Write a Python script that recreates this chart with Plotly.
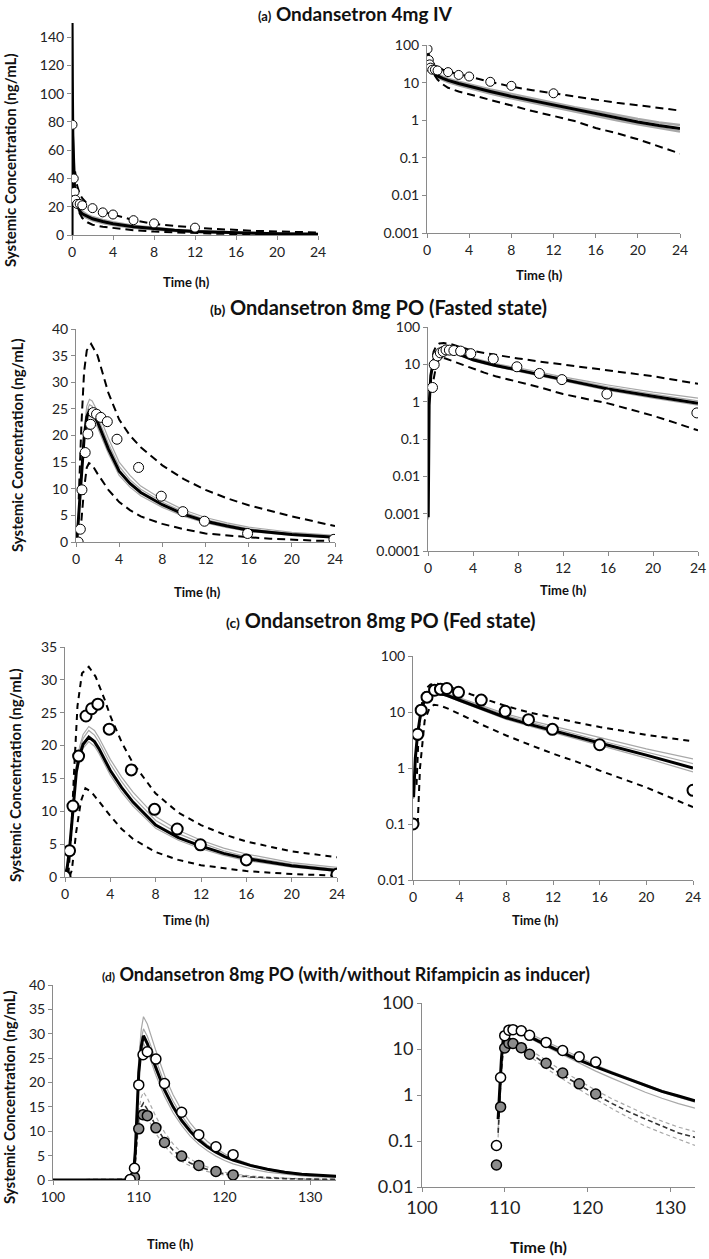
import plotly.graph_objects as go

# ---------------- (a) Ondansetron 4mg IV ----------------
a_obs_t = [0.05, 0.17, 0.25, 0.33, 0.5, 0.75, 1, 2, 3, 4, 6, 8, 12]
a_obs_c = [78, 40, 30.5, 25, 22, 22, 21, 19, 16, 14.5, 10.5, 8.2, 5.2]
a_mean_t = [0, 0.001, 0.03, 0.08, 0.15, 0.25, 0.4, 0.6, 0.8, 1, 1.5, 2, 3, 4, 6, 8, 10, 12, 14, 16, 18, 20, 22, 24]
a_mean_c = [0, 150, 110, 70, 45, 32, 24, 19.5, 16.5, 15, 13, 11.5, 9.5, 8, 5.8, 4.3, 3.3, 2.5, 1.9, 1.5, 1.15, 0.9, 0.72, 0.6]
a_g1_c = [0, 150, 110, 72, 47, 34, 26, 21, 18, 16.5, 14.3, 12.7, 10.6, 9, 6.6, 5, 3.8, 2.9, 2.2, 1.75, 1.35, 1.07, 0.87, 0.74]
a_g2_c = [0, 150, 108, 68, 43, 30, 22.5, 18, 15.2, 13.7, 11.8, 10.4, 8.5, 7.1, 5.1, 3.8, 2.9, 2.2, 1.65, 1.3, 1.0, 0.78, 0.62, 0.5]
a_up_t = [0.3, 0.5, 0.75, 1, 1.5, 2, 3, 4, 6, 8, 10, 12, 14, 16, 18, 20, 22, 24]
a_up_c = [45, 35, 29, 26, 22, 19.5, 16.5, 14.5, 10.5, 7.8, 6.3, 5.2, 4.3, 3.5, 2.9, 2.5, 2.1, 1.8]
a_lo_t = [0.7, 1, 1.5, 2, 3, 4, 6, 8, 10, 12, 14, 16, 18, 20, 22, 24]
a_lo_c = [16, 12, 9, 7.3, 5.8, 4.9, 3.4, 2.4, 1.75, 1.3, 0.95, 0.62, 0.45, 0.31, 0.2, 0.13]

# ---------------- (b) 8mg PO fasted ----------------
b_obs_t = [0.2, 0.4, 0.55, 0.85, 1.1, 1.35, 1.6, 1.9, 2.3, 2.9, 3.8, 5.8, 7.9, 9.9, 11.9, 15.9, 23.9]
b_obs_c = [0, 2.4, 9.8, 16.8, 20.3, 22.1, 24.3, 24.0, 23.4, 22.6, 19.3, 14.0, 8.6, 5.7, 3.9, 1.6, 0.5]
b_mean_t = [0.02, 0.1, 0.25, 0.5, 0.75, 1.0, 1.25, 1.5, 2, 2.5, 3, 4, 5, 6, 8, 10, 12, 14, 16, 20, 24]
b_mean_c = [0.0008, 0.8, 5, 13, 19.5, 23.5, 24.7, 24.5, 22.5, 20, 17.5, 13.3, 11, 9.3, 7, 5.2, 3.9, 3.0, 2.2, 1.4, 0.9]
b_g1_c = [0.001, 1, 6, 14.5, 21, 25.5, 26.8, 26.5, 24.5, 22, 19.5, 15, 12.5, 10.5, 8, 6, 4.6, 3.6, 2.8, 1.8, 1.25]
b_g2_c = [0.0009, 0.9, 5.5, 13.8, 20.3, 24.5, 25.8, 25.5, 23.5, 21, 18.5, 14.2, 11.7, 9.9, 7.5, 5.6, 4.2, 3.3, 2.5, 1.6, 1.05]
b_g3_c = [0.0007, 0.7, 4.5, 12.3, 18.7, 22.5, 23.7, 23.5, 21.5, 19, 16.6, 12.5, 10.3, 8.7, 6.5, 4.8, 3.6, 2.7, 2.0, 1.25, 0.8]
b_up_t = [0.25, 0.5, 0.75, 1, 1.4, 2, 2.5, 3, 4, 5, 6, 8, 10, 12, 14, 16, 20, 24]
b_up_c = [8, 22, 32, 36, 37.2, 35, 31.5, 28, 23, 20, 17.8, 14.4, 11.8, 9.8, 8.2, 6.9, 4.8, 3.0]
b_lo_t = [0.5, 0.75, 1, 1.2, 1.5, 2, 3, 4, 5, 6, 8, 10, 12, 14, 16, 18, 20, 22, 24]
b_lo_c = [4, 10, 14, 14.8, 14.5, 12.8, 9.8, 7.5, 6, 4.8, 3.4, 2.4, 1.6, 1.2, 0.9, 0.62, 0.42, 0.27, 0.17]

# ---------------- (c) 8mg PO fed ----------------
c_obs_t = [0, 0.4, 0.7, 1.2, 1.85, 2.35, 2.9, 3.9, 5.85, 7.9, 9.9, 11.95, 16, 24]
c_obs_c = [0.1, 4.0, 10.8, 18.4, 24.5, 25.6, 26.3, 22.5, 16.3, 10.3, 7.3, 4.9, 2.6, 0.4]
c_mean_t = [0.05, 0.2, 0.4, 0.7, 1.0, 1.3, 1.6, 2.1, 2.6, 3, 4, 5, 6, 8, 10, 12, 14, 16, 20, 24]
c_mean_c = [0.3, 1.5, 4.2, 10.8, 16, 18.6, 20.2, 21.3, 20.6, 19.5, 16.2, 13.6, 11.4, 7.9, 6.0, 4.7, 3.6, 2.8, 1.7, 1.0]
c_g1_c = [0.35, 1.7, 4.6, 11.5, 17, 19.9, 21.7, 22.9, 22.3, 21.2, 17.9, 15.2, 12.9, 9.2, 7.1, 5.6, 4.4, 3.5, 2.2, 1.45]
c_g2_c = [0.33, 1.6, 4.4, 11.2, 16.6, 19.4, 21.1, 22.3, 21.6, 20.5, 17.2, 14.5, 12.2, 8.6, 6.6, 5.2, 4.0, 3.1, 1.95, 1.2]
c_g3_c = [0.28, 1.4, 4.0, 10.4, 15.5, 18.0, 19.6, 20.6, 19.9, 18.8, 15.5, 12.9, 10.8, 7.4, 5.6, 4.3, 3.3, 2.5, 1.5, 0.85]
c_up_t = [0.3, 0.5, 0.8, 1.1, 1.5, 2.1, 2.7, 3.5, 4, 5, 6, 8, 10, 12, 14, 16, 20, 24]
c_up_c = [0.5, 5, 16, 26, 31, 32, 30.5, 27, 24.5, 20.5, 17.3, 12.7, 9.8, 7.9, 6.5, 5.4, 3.9, 3.0]
c_lo_t = [0.4, 0.6, 1.0, 1.4, 1.8, 2.3, 3, 4, 5, 6, 8, 10, 12, 14, 16, 20, 24]
c_lo_c = [0.1, 1, 7, 11.5, 13.5, 13, 11.5, 9.3, 7.3, 5.8, 3.8, 2.6, 1.8, 1.3, 0.9, 0.45, 0.2]

# ---------------- (d) 8mg PO with/without rifampicin ----------------
d_obs_t = [109, 109.5, 110, 110.5, 111, 112, 113, 115, 117, 119, 121]
d_wo_c = [0.08, 2.4, 19.5, 25.7, 26.3, 24.8, 19.8, 13.9, 9.3, 6.8, 5.2]
d_w_c = [0.03, 0.55, 10.5, 13.4, 13.2, 10.7, 7.7, 4.9, 3.0, 1.75, 1.05]
d_sim_t = [100, 108.9, 109.2, 109.4, 109.6, 109.8, 110, 110.3, 110.55, 111, 111.5, 112, 113, 114, 115, 116,
           117, 118, 119, 120, 121, 123, 125, 127, 129, 131, 133]
d_m_c = [0, 0, 0.3, 1.5, 6, 15, 22, 27.5, 29.6, 28, 25.5, 23, 18.5, 15, 12.2, 10, 8.2, 6.8, 5.7, 4.8,
         4.1, 3.0, 2.2, 1.6, 1.2, 0.95, 0.75]
d_g1_c = [0, 0, 0.35, 1.8, 7, 17, 25, 31, 33.5, 32, 29, 26.5, 21.5, 17.5, 14.3, 11.7, 9.6, 7.9, 6.5, 5.4,
          4.5, 3.2, 2.3, 1.7, 1.25, 0.95, 0.75]
d_g2_c = [0, 0, 0.32, 1.6, 6.5, 16, 23.5, 29, 31, 29.5, 27, 24.5, 19.8, 16.2, 13.2, 10.8, 8.8, 7.2, 6.0, 5.0,
          4.2, 3.0, 2.15, 1.55, 1.15, 0.88, 0.7]
d_g3_c = [0, 0, 0.28, 1.3, 5.5, 14, 21, 26, 28, 26.5, 24, 21.5, 17.2, 13.8, 11.2, 9.0, 7.3, 6.0, 4.9, 4.0,
          3.3, 2.3, 1.6, 1.15, 0.85, 0.65, 0.52]
d_r_c = [0, 0, 0.15, 0.8, 3.5, 8.5, 12.5, 15, 15.8, 14.5, 12.8, 11, 8.2, 6.1, 4.6, 3.5, 2.7, 2.1, 1.65, 1.3,
         1.02, 0.65, 0.43, 0.3, 0.21, 0.15, 0.12]
d_r1_c = [0, 0, 0.18, 1, 4, 10, 14.5, 17, 18, 16.8, 15, 13, 9.8, 7.4, 5.6, 4.3, 3.3, 2.6, 2.05, 1.6,
          1.27, 0.82, 0.55, 0.38, 0.27, 0.2, 0.16]
d_r2_c = [0, 0, 0.12, 0.65, 3, 7.5, 11, 13.2, 14, 12.8, 11.2, 9.5, 7, 5.1, 3.8, 2.9, 2.2, 1.7, 1.32, 1.03,
          0.8, 0.5, 0.32, 0.21, 0.15, 0.11, 0.08]

titles = ["Ondansetron 4mg IV", "Ondansetron 8mg PO (Fasted state)",
          "Ondansetron 8mg PO (Fed state)", "Ondansetron 8mg PO (with/without Rifampicin as inducer)"]
labels = ["(a)", "(b)", "(c)", "(d)"]
ytitle = "Systemic Concentration (ng/mL)"
xtitle = "Time (h)"

W, H = 709, 1259
FONT = "Lato"
GRAY_AX = "#8a8a8a"
fig = go.Figure()


def xdom(l, r):
    return [l / W, r / W]


def ydom(top, bot):
    return [1 - bot / H, 1 - top / H]


# panel geometry: (x left, x right, y top, y bottom, xrange, yrange, log, dtick_y, dtick_x, tick font)
panels = [
    (72, 318, 23, 235, [0, 24], [0, 150], False, 20, 4, 14),
    (427, 680, 45, 233, [0, 24], [-3, 2], True, None, 4, 14),
    (76, 335, 329, 542, [0, 24], [0, 40], False, 5, 4, 14),
    (428, 698, 327, 551, [0, 24], [-4, 2], True, None, 4, 14),
    (65, 337, 647, 877, [0, 24], [0, 35], False, 5, 4, 14),
    (413, 693, 656, 880, [0, 24], [-2, 2], True, None, 4, 14),
    (53, 336, 985, 1180, [100, 133], [0, 40], False, 5, 10, 14),
    (422, 695, 1003, 1187, [100, 133], [-2, 2], True, None, 10, 18),
]

layout = {}
for i, (l, r, t, b, xr, yr, lg, dty, dtx, tf) in enumerate(panels):
    n = "" if i == 0 else str(i + 1)
    xa = dict(domain=xdom(l, r), range=xr, anchor="y" + n, showgrid=False, zeroline=False,
              automargin=False,
              showline=True, linecolor=GRAY_AX, linewidth=1, ticks="outside", ticklen=4,
              tickcolor=GRAY_AX, dtick=dtx, tick0=0, tickfont=dict(family=FONT, size=tf, color="#222"))
    ya = dict(domain=ydom(t, b), range=yr, anchor="x" + n, showgrid=False, zeroline=False,
              automargin=False,
              showline=True, linecolor=GRAY_AX, linewidth=1, ticks="outside", ticklen=4,
              tickcolor=GRAY_AX, tickfont=dict(family=FONT, size=tf, color="#222"))
    if lg:
        lo, hi = yr
        vals = [10 ** k for k in range(lo, hi + 1)]
        ya.update(type="log", tickvals=vals,
                  ticktext=[("%g" % v) if v >= 1 else ("%." + str(-k) + "f") % v
                            for k, v in zip(range(lo, hi + 1), vals)])
    else:
        ya.update(dtick=dty, tick0=0)
    layout["xaxis" + n] = xa
    layout["yaxis" + n] = ya


def pos(t, c):
    pts = [(a, b) for a, b in zip(t, c) if b > 0]
    return [p[0] for p in pts], [p[1] for p in pts]


def add(t, c, idx, log, **kw):
    n = "" if idx == 0 else str(idx + 1)
    if log:
        t, c = pos(t, c)
    mode = kw.pop("mode", "lines")
    fig.add_trace(go.Scatter(x=t, y=c, mode=mode, xaxis="x" + n, yaxis="y" + n,
                             showlegend=False, hoverinfo="skip", cliponaxis=True, **kw))


GL = dict(color="#a8a8a8", width=1.2)
ML = dict(color="black", width=3)
DL = dict(color="black", width=2, dash="8px,5px")


def obs(size, lw, fill="white"):
    return dict(size=size, color=fill, line=dict(color="black", width=lw))


for idx, lg in [(0, False), (1, True)]:
    add(a_mean_t, a_g1_c, idx, lg, line=dict(color="#a8a8a8", width=2.5))
    add(a_mean_t, a_g2_c, idx, lg, line=dict(color="#a8a8a8", width=2.5))
    add(a_up_t, a_up_c, idx, lg, line=DL)
    add(a_lo_t, a_lo_c, idx, lg, line=DL)
    add(a_mean_t, a_mean_c, idx, lg, line=ML)
    add(a_obs_t, a_obs_c, idx, lg, mode="markers", marker=obs(9, 1))

for idx, lg in [(2, False), (3, True)]:
    for g in (b_g1_c, b_g2_c, b_g3_c):
        add(b_mean_t, g, idx, lg, line=GL)
    add(b_up_t, b_up_c, idx, lg, line=DL)
    add(b_lo_t, b_lo_c, idx, lg, line=DL)
    add(b_mean_t, b_mean_c, idx, lg, line=ML)
    add(b_obs_t, b_obs_c, idx, lg, mode="markers", marker=obs(10, 1))

for idx, lg in [(4, False), (5, True)]:
    for g in (c_g1_c, c_g2_c, c_g3_c):
        add(c_mean_t, g, idx, lg, line=GL)
    add(c_up_t, c_up_c, idx, lg, line=dict(color="black", width=2, dash="6px,5px"))
    add(c_lo_t, c_lo_c, idx, lg, line=dict(color="black", width=2, dash="6px,5px"))
    add(c_mean_t, c_mean_c, idx, lg, line=ML)
    add(c_obs_t, c_obs_c, idx, lg, mode="markers", marker=obs(11, 2))

for idx, lg in [(6, False), (7, True)]:
    for g in (d_r1_c, d_r2_c):
        add(d_sim_t, g, idx, lg, line=dict(color="#a8a8a8", width=1.2, dash="4px,3px"))
    for g in (d_g1_c, d_g2_c, d_g3_c):
        add(d_sim_t, g, idx, lg, line=GL)
    add(d_sim_t, d_r_c, idx, lg, line=dict(color="#333", width=1.6, dash="5px,3px"))
    add(d_sim_t, d_m_c, idx, lg, line=ML)
    add(d_obs_t, d_w_c, idx, lg, mode="markers", marker=obs(10, 1.5, "#8c8c8c"))
    add(d_obs_t, d_wo_c, idx, lg, mode="markers", marker=obs(10, 1.5))

ann = []
# panel titles
title_pos = [(355, 13), (379, 307), (381, 620), (346, 974)]
title_size = [19, 20, 20, 18]
for lab, txt, (x, y), fs in zip(labels, titles, title_pos, title_size):
    ann.append(dict(x=x / W, y=1 - y / H, xref="paper", yref="paper", showarrow=False,
                    xanchor="center", yanchor="middle",
                    text="<span style='font-size:%dpx'>%s</span> %s" % (fs - 6, lab, txt),
                    font=dict(family=FONT, size=fs, color="#111", weight="bold")))
# y titles
for (x, y) in [(10, 160), (17, 445), (15, 775), (9, 1097)]:
    ann.append(dict(x=x / W, y=1 - y / H, xref="paper", yref="paper", showarrow=False,
                    xanchor="center", yanchor="middle",
                    text=ytitle, textangle=-90,
                    font=dict(family=FONT, size=15, color="#111", weight="bold")))
# x titles
for (x, y, fs) in [(187, 282, 13), (539, 275, 13), (197, 592, 13), (563, 590, 13),
                   (187, 920, 13), (535, 920, 13), (170, 1244, 13), (538, 1246, 16)]:
    ann.append(dict(x=x / W, y=1 - y / H, xref="paper", yref="paper", showarrow=False,
                    xanchor="center", yanchor="middle",
                    text=xtitle, font=dict(family=FONT, size=fs, color="#111", weight="bold")))

fig.update_layout(width=W, height=H, margin=dict(l=0, r=0, t=0, b=0),
                  paper_bgcolor="white", plot_bgcolor="white",
                  annotations=ann, **layout)
fig.write_html("out.html", config={"displayModeBar": False},
               post_script="document.body.style.margin='0px';document.body.style.padding='0px';")
